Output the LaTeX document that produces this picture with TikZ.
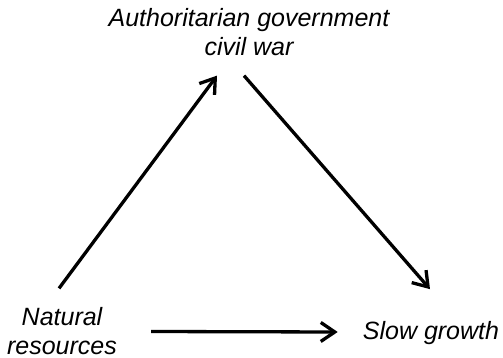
\documentclass[tikz,border=0pt]{standalone}
\usepackage{fontspec}
\setmainfont{Liberation Sans}
\usetikzlibrary{arrows.meta}
\tikzset{
  lbl/.style={inner sep=0pt, align=center, font=\fontsize{25}{28.5}\selectfont\itshape},
  conn/.style={line width=3.3pt, -{Straight Barb[length=14pt,width=19pt]}}
}
\begin{document}
\begin{tikzpicture}[x=1pt,y=-1pt]
\useasboundingbox (0,0) rectangle (503,358);
\node[lbl] (top) at (249,32) {Authoritarian government\\civil war};
\node[lbl] (nat) at (62,331) {Natural\\resources};
\node[lbl] (slow) at (431,333) {Slow growth};
\draw[conn] ([shift={(-3,-19)}]nat.north) -- ([shift={(-32,20)}]top.south);
\draw[conn] ([shift={(-5,20)}]top.south) -- ([shift={(-1,-32)}]slow.north);
\draw[conn] ([shift={(34,0.5)}]nat.east) -- ([shift={(-25,-1)}]slow.west);
\end{tikzpicture}
\end{document}
